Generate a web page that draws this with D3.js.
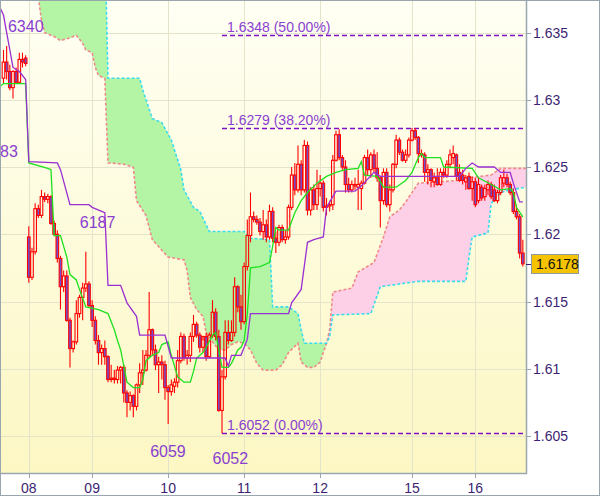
<!DOCTYPE html>
<html><head><meta charset="utf-8">
<script src="https://cdn.jsdelivr.net/npm/d3@7"></script>
<style>
html,body{margin:0;padding:0;background:#fff;}
svg{display:block;font-family:"Liberation Sans",Arial,sans-serif;}
</style></head><body>
<svg id="chart" width="600" height="497"></svg>
<script>
// ---- data ----
const dayLabels = ["08","09","10","11","12","15","16"];
const dayIndex  = [8,28,52,76,100,129,149];
const priceTicks = [1.605,1.61,1.615,1.62,1.625,1.63,1.635];

const open = [1.6316,1.6328,1.6321,1.6309,1.6321,1.6313,1.6330,1.6331,1.6198,1.6168,
1.6187,1.6219,1.6214,1.6228,1.6226,1.6228,1.6208,1.6200,1.6182,1.6161,
1.6169,1.6136,1.6115,1.6120,1.6141,1.6153,1.6160,1.6163,1.6147,1.6136,
1.6121,1.6112,1.6115,1.6109,1.6092,1.6093,1.6092,1.6099,1.6101,1.6082,
1.6075,1.6080,1.6072,1.6088,1.6097,1.6099,1.6110,1.6129,1.6114,1.6103,
1.6105,1.6103,1.6086,1.6083,1.6087,1.6090,1.6106,1.6124,1.6108,1.6110,
1.6124,1.6133,1.6125,1.6116,1.6124,1.6109,1.6125,1.6142,1.6124,1.6069,
1.6094,1.6127,1.6121,1.6127,1.6161,1.6146,1.6135,1.6176,1.6199,1.6213,
1.6211,1.6209,1.6202,1.6207,1.6198,1.6217,1.6197,1.6194,1.6205,1.6196,
1.6198,1.6220,1.6244,1.6233,1.6252,1.6233,1.6266,1.6218,1.6233,1.6222,
1.6234,1.6238,1.6220,1.6221,1.6222,1.6255,1.6274,1.6257,1.6250,1.6237,
1.6233,1.6236,1.6235,1.6234,1.6238,1.6257,1.6248,1.6259,1.6249,1.6242,
1.6225,1.6246,1.6222,1.6233,1.6252,1.6270,1.6261,1.6255,1.6259,1.6270,
1.6277,1.6272,1.6260,1.6259,1.6246,1.6248,1.6239,1.6242,1.6237,1.6246,
1.6244,1.6252,1.6257,1.6259,1.6246,1.6244,1.6239,1.6243,1.6234,1.6239,
1.6225,1.6235,1.6228,1.6233,1.6237,1.6233,1.6225,1.6231,1.6238,1.6242,
1.6237,1.6231,1.6217,1.6213,1.6186];
const high = [1.6337,1.6340,1.6326,1.6322,1.6324,1.6335,1.6335,1.6333,1.6206,1.6190,
1.6223,1.6222,1.6233,1.6231,1.6230,1.6229,1.6210,1.6203,1.6184,1.6173,
1.6173,1.6138,1.6121,1.6151,1.6155,1.6164,1.6187,1.6165,1.6151,1.6139,
1.6125,1.6118,1.6121,1.6110,1.6103,1.6099,1.6102,1.6102,1.6103,1.6084,
1.6083,1.6081,1.6089,1.6104,1.6114,1.6114,1.6157,1.6130,1.6118,1.6109,
1.6110,1.6106,1.6088,1.6092,1.6093,1.6114,1.6127,1.6126,1.6114,1.6127,
1.6140,1.6135,1.6127,1.6121,1.6127,1.6127,1.6151,1.6145,1.6129,1.6099,
1.6136,1.6136,1.6136,1.6168,1.6162,1.6155,1.6179,1.6211,1.6231,1.6217,
1.6214,1.6212,1.6218,1.6211,1.6222,1.6220,1.6202,1.6207,1.6207,1.6203,
1.6222,1.6250,1.6253,1.6266,1.6255,1.6270,1.6269,1.6235,1.6237,1.6248,
1.6244,1.6240,1.6227,1.6225,1.6259,1.6277,1.6278,1.6259,1.6255,1.6242,
1.6240,1.6242,1.6248,1.6240,1.6259,1.6263,1.6261,1.6263,1.6261,1.6243,
1.6249,1.6249,1.6237,1.6253,1.6274,1.6272,1.6263,1.6263,1.6272,1.6279,
1.6279,1.6273,1.6263,1.6261,1.6252,1.6249,1.6246,1.6249,1.6249,1.6249,
1.6255,1.6263,1.6266,1.6260,1.6252,1.6248,1.6244,1.6246,1.6243,1.6242,
1.6242,1.6237,1.6237,1.6240,1.6239,1.6237,1.6233,1.6244,1.6248,1.6245,
1.6239,1.6234,1.6222,1.6215,1.6196];
const low = [1.6312,1.6315,1.6307,1.6301,1.6312,1.6312,1.6324,1.6325,1.6164,1.6166,
1.6185,1.6212,1.6212,1.6224,1.6223,1.6207,1.6199,1.6179,1.6144,1.6157,
1.6135,1.6101,1.6112,1.6118,1.6138,1.6136,1.6157,1.6146,1.6131,1.6118,
1.6103,1.6103,1.6103,1.6090,1.6090,1.6089,1.6089,1.6089,1.6075,1.6064,
1.6069,1.6064,1.6069,1.6082,1.6088,1.6098,1.6108,1.6110,1.6099,1.6082,
1.6092,1.6077,1.6059,1.6080,1.6082,1.6086,1.6104,1.6106,1.6103,1.6105,
1.6120,1.6123,1.6112,1.6112,1.6106,1.6108,1.6123,1.6121,1.6068,1.6052,
1.6092,1.6118,1.6120,1.6124,1.6142,1.6129,1.6133,1.6173,1.6194,1.6209,
1.6207,1.6199,1.6196,1.6194,1.6196,1.6194,1.6186,1.6191,1.6194,1.6193,
1.6196,1.6218,1.6229,1.6231,1.6229,1.6231,1.6214,1.6214,1.6218,1.6218,
1.6228,1.6217,1.6214,1.6217,1.6218,1.6254,1.6255,1.6248,1.6231,1.6231,
1.6231,1.6233,1.6218,1.6218,1.6237,1.6244,1.6242,1.6246,1.6239,1.6205,
1.6222,1.6220,1.6217,1.6231,1.6249,1.6259,1.6254,1.6253,1.6257,1.6269,
1.6270,1.6253,1.6257,1.6239,1.6237,1.6235,1.6235,1.6236,1.6236,1.6242,
1.6242,1.6249,1.6252,1.6240,1.6239,1.6237,1.6233,1.6233,1.6225,1.6220,
1.6223,1.6225,1.6225,1.6229,1.6226,1.6224,1.6223,1.6229,1.6235,1.6235,
1.6229,1.6215,1.6211,1.6182,1.6176];
const close = [1.6328,1.6321,1.6309,1.6321,1.6313,1.6330,1.6328,1.6327,1.6168,1.6187,
1.6219,1.6214,1.6228,1.6226,1.6228,1.6208,1.6200,1.6182,1.6161,1.6169,
1.6136,1.6115,1.6120,1.6141,1.6153,1.6160,1.6163,1.6147,1.6136,1.6121,
1.6112,1.6115,1.6109,1.6092,1.6093,1.6092,1.6099,1.6101,1.6082,1.6075,
1.6080,1.6072,1.6088,1.6097,1.6099,1.6110,1.6129,1.6114,1.6103,1.6105,
1.6103,1.6086,1.6083,1.6088,1.6090,1.6106,1.6124,1.6108,1.6110,1.6124,
1.6133,1.6125,1.6116,1.6124,1.6109,1.6125,1.6142,1.6124,1.6069,1.6094,
1.6127,1.6121,1.6127,1.6161,1.6146,1.6135,1.6176,1.6199,1.6213,1.6211,
1.6209,1.6202,1.6207,1.6198,1.6217,1.6197,1.6194,1.6205,1.6196,1.6198,
1.6220,1.6244,1.6233,1.6252,1.6233,1.6266,1.6218,1.6233,1.6222,1.6234,
1.6238,1.6220,1.6221,1.6222,1.6255,1.6274,1.6257,1.6250,1.6237,1.6233,
1.6237,1.6237,1.6237,1.6238,1.6257,1.6248,1.6259,1.6249,1.6242,1.6225,
1.6246,1.6222,1.6233,1.6252,1.6270,1.6261,1.6255,1.6259,1.6270,1.6277,
1.6272,1.6260,1.6259,1.6246,1.6248,1.6240,1.6242,1.6237,1.6246,1.6244,
1.6252,1.6259,1.6260,1.6243,1.6240,1.6240,1.6242,1.6234,1.6239,1.6222,
1.6237,1.6227,1.6234,1.6237,1.6228,1.6225,1.6231,1.6242,1.6242,1.6237,
1.6231,1.6217,1.6213,1.6186,1.6178];

const tenkanIdx = [-1,0,7,8,14,15,16,18,20,21,23,24,26,30,33,35,36,37,39,41,43,44,45,47,49,50,52,53,55,57,59,60,61,63,64,66,67,68,69,71,72,73,74,75,76,77,78,81,84,85,86,87,90,92,94,96,99,102,105,108,112,113,114,118,120,124,127,129,131,132,133,138,139,148,150,154,157,160,161,162,164];
const tenkanVal = [1.6310,1.6312,1.6312,1.6253,1.6249,1.6248,1.6199,1.6199,1.6183,1.6170,1.6166,1.6159,1.6146,1.6144,1.6141,1.6129,1.6121,1.6114,1.6090,1.6086,1.6086,1.6092,1.6106,1.6110,1.6112,1.6118,1.6120,1.6110,1.6094,1.6090,1.6090,1.6098,1.6108,1.6112,1.6116,1.6125,1.6127,1.6114,1.6101,1.6101,1.6104,1.6109,1.6114,1.6116,1.6121,1.6141,1.6175,1.6176,1.6179,1.6191,1.6205,1.6203,1.6203,1.6216,1.6225,1.6231,1.6238,1.6243,1.6246,1.6248,1.6249,1.6254,1.6244,1.6243,1.6235,1.6235,1.6240,1.6246,1.6257,1.6260,1.6257,1.6257,1.6250,1.6249,1.6242,1.6237,1.6233,1.6234,1.6231,1.6220,1.6213];

const kijunIdx = [-1,0,3,5,7,8,17,18,21,27,28,31,32,33,37,39,42,43,51,53,70,71,72,75,77,78,90,91,94,96,98,101,102,105,111,113,117,119,144,146,148,150,155,157,160,161,163,164];
const kijunVal = [1.6368,1.6363,1.6324,1.6321,1.6315,1.6254,1.6253,1.6248,1.6222,1.6222,1.6220,1.6217,1.6216,1.6162,1.6162,1.6149,1.6139,1.6125,1.6125,1.6108,1.6108,1.6102,1.6110,1.6110,1.6122,1.6141,1.6141,1.6149,1.6159,1.6194,1.6196,1.6198,1.6220,1.6232,1.6232,1.6236,1.6246,1.6243,1.6243,1.6249,1.6253,1.6250,1.6250,1.6246,1.6246,1.6238,1.6224,1.6224];

const spanAIdx = [11,12,13,16,18,21,23,25,26,28,29,30,32,33,34,38,41,42,45,47,52,57,58,59,61,63,64,66,68,70,72,74,76,78,80,82,86,88,90,93,94,96,98,100,101,102,103,104,110,112,117,120,122,125,127,131,144,147,154,157,165];
const spanAVal = [1.6376,1.6359,1.6350,1.6347,1.6344,1.6346,1.6348,1.6342,1.6337,1.6335,1.6324,1.6318,1.6316,1.6253,1.6253,1.6252,1.6250,1.6225,1.6214,1.6196,1.6183,1.6181,1.6173,1.6153,1.6144,1.6139,1.6127,1.6120,1.6114,1.6114,1.6118,1.6120,1.6119,1.6114,1.6104,1.6099,1.6099,1.6103,1.6112,1.6119,1.6105,1.6101,1.6101,1.6105,1.6112,1.6119,1.6129,1.6157,1.6160,1.6172,1.6179,1.6198,1.6213,1.6218,1.6224,1.6238,1.6240,1.6242,1.6244,1.6249,1.6249];

const spanBIdx = [11,32,33,43,44,47,50,53,56,57,60,62,65,76,78,84,85,90,93,94,95,102,103,104,116,119,131,146,147,148,153,154,157,160,165];
const spanBVal = [1.6420,1.6420,1.6316,1.6316,1.6307,1.6286,1.6283,1.6270,1.6248,1.6233,1.6220,1.6217,1.6202,1.6202,1.6197,1.6196,1.6146,1.6146,1.6141,1.6129,1.6119,1.6119,1.6124,1.6140,1.6141,1.6161,1.6165,1.6165,1.6183,1.6198,1.6201,1.6223,1.6231,1.6233,1.6235];

const fibLevels = [1.6348,1.6279,1.6052];
const fibPct = ["50.00%","38.20%","0.00%"];
const fibStartIdx = 69;

const swingText = ["6340","6187","6059","6052","83"];
const swingIdx  = [1,26,52,69,-1.1];
const swingVal  = [1.6340,1.6187,1.6059,1.6052,1.6283];

const lastPrice = 1.6178;

// ---- drawing ----
const W=600,H=497,plotR=526,plotB=473;
const svg=d3.select("#chart");
const defs=svg.append("defs");
const grad=defs.append("linearGradient").attr("id","bg").attr("x1",0).attr("y1",0).attr("x2",0).attr("y2",1);
grad.append("stop").attr("offset","0%").attr("stop-color","#fffff4");
grad.append("stop").attr("offset","100%").attr("stop-color","#fcf7c3");
defs.append("clipPath").attr("id","clip").append("rect").attr("x",0).attr("y",0).attr("width",plotR).attr("height",plotB);

svg.append("rect").attr("width",W).attr("height",H).attr("fill","#fff");
svg.append("rect").attr("x",0).attr("y",0).attr("width",plotR).attr("height",plotB).attr("fill","url(#bg)");

const x=d3.scaleLinear().domain([-1.1,165]).range([0,plotR]);
const y=d3.scaleLinear().domain([1.605,1.635]).range([436,32.5]);

const g=svg.append("g").attr("clip-path","url(#clip)");
const gridC="#e4e4ca";
g.selectAll(".gx").data(dayIndex).join("line")
  .attr("x1",d=>Math.round(x(d))+0.5).attr("x2",d=>Math.round(x(d))+0.5)
  .attr("y1",0).attr("y2",plotB).attr("stroke",gridC);
g.selectAll(".gy").data(priceTicks).join("line")
  .attr("y1",d=>Math.round(y(d))+0.5).attr("y2",d=>Math.round(y(d))+0.5)
  .attr("x1",0).attr("x2",plotR).attr("stroke",gridC);

// cloud
const A=spanAIdx.map((d,k)=>[d,spanAVal[k]]);
const B=spanBIdx.map((d,k)=>[d,spanBVal[k]]);
const line=d3.line().x(p=>x(p[0])).y(p=>y(p[1]));
function poly(lo,hi){
  const a=A.filter(p=>p[0]>=lo&&p[0]<=hi);
  const b=B.filter(p=>p[0]>=lo&&p[0]<=hi).reverse();
  return line(a.concat(b))+"Z";
}
g.append("path").attr("d",poly(11,102)).attr("fill","#b3f5a5");
g.append("path").attr("d",poly(102,165)).attr("fill","#fdd0e7");
g.append("path").attr("d",line(A)).attr("fill","none").attr("stroke","#f08a8a").attr("stroke-width",1.6).attr("stroke-dasharray","3,2");
g.append("path").attr("d",line(B)).attr("fill","none").attr("stroke","#3cdcef").attr("stroke-width",1.6).attr("stroke-dasharray","3,2");

// fib lines
g.selectAll(".fib").data(fibLevels).join("line")
  .attr("x1",x(fibStartIdx)).attr("x2",plotR)
  .attr("y1",d=>Math.round(y(d))+0.5).attr("y2",d=>Math.round(y(d))+0.5)
  .attr("stroke","#8010c4").attr("stroke-width",1.3).attr("stroke-dasharray","5,3");
g.selectAll(".fibt").data(fibLevels).join("text")
  .attr("x",x(fibStartIdx)+5).attr("y",d=>y(d)-3)
  .attr("font-size",14).attr("fill","#8a3fd0")
  .text((d,k)=>d.toFixed(4)+" ("+fibPct[k]+")");

// candles
const bars=d3.range(open.length);
const red="#ff0000";
g.selectAll(".wu").data(bars).join("line")
  .attr("x1",i=>x(i)).attr("x2",i=>x(i))
  .attr("y1",i=>y(high[i])).attr("y2",i=>y(Math.max(open[i],close[i])))
  .attr("stroke",red).attr("stroke-width",1.1);
g.selectAll(".wl").data(bars).join("line")
  .attr("x1",i=>x(i)).attr("x2",i=>x(i))
  .attr("y1",i=>y(Math.min(open[i],close[i]))).attr("y2",i=>y(low[i]))
  .attr("stroke",red).attr("stroke-width",1.1);
g.selectAll(".body").data(bars).join("rect")
  .attr("x",i=>x(i)-1.3).attr("width",2.6)
  .attr("y",i=>y(Math.max(open[i],close[i])))
  .attr("height",i=>Math.max(1,Math.abs(y(open[i])-y(close[i]))))
  .attr("fill",i=>close[i]<open[i]?"#6f4fcf":"none")
  .attr("stroke",red).attr("stroke-width",1.1);

// tenkan / kijun
g.append("path").attr("d",line(tenkanIdx.map((d,k)=>[d,tenkanVal[k]])))
  .attr("fill","none").attr("stroke","#1ee01e").attr("stroke-width",1.3);
g.append("path").attr("d",line(kijunIdx.map((d,k)=>[d,kijunVal[k]])))
  .attr("fill","none").attr("stroke","#9a2fd2").attr("stroke-width",1.3);

// swing labels
const swingDx=[1.3,-6,-18,-9.5,0], swingDy=[-14,-23.5,33,31,34.5];
g.selectAll(".sw").data(swingText).join("text")
  .attr("x",(d,k)=>x(swingIdx[k])+swingDx[k]).attr("y",(d,k)=>y(swingVal[k])+swingDy[k])
  .attr("font-size",16).attr("fill","#8a3fd0").text(d=>d);

// axes
const axC="#9aa6ae", txtC="#3d1f73";
svg.append("line").attr("x1",plotR+0.5).attr("x2",plotR+0.5).attr("y1",0).attr("y2",plotB+1).attr("stroke",axC).attr("stroke-width",1.5);
svg.append("line").attr("x1",0).attr("x2",plotR+1).attr("y1",plotB+0.5).attr("y2",plotB+0.5).attr("stroke",axC).attr("stroke-width",1.5);
svg.selectAll(".yt").data(priceTicks).join("line")
  .attr("x1",plotR).attr("x2",plotR+5).attr("y1",d=>Math.round(y(d))+0.5).attr("y2",d=>Math.round(y(d))+0.5).attr("stroke",axC);
svg.selectAll(".yl").data(priceTicks).join("text")
  .attr("x",plotR+7).attr("y",d=>y(d)+5).attr("font-size",14).attr("fill",txtC)
  .text(d=>d3.format("")(+d.toFixed(3)));
svg.selectAll(".xt").data(dayIndex).join("line")
  .attr("x1",d=>Math.round(x(d))+0.5).attr("x2",d=>Math.round(x(d))+0.5).attr("y1",plotB).attr("y2",plotB+5).attr("stroke",axC);
svg.selectAll(".xl").data(dayLabels).join("text")
  .attr("x",(d,k)=>x(dayIndex[k])).attr("y",493).attr("text-anchor","middle")
  .attr("font-size",14).attr("fill",txtC).text(d=>d);

// current price
const py=y(lastPrice);
svg.append("line").attr("x1",plotR).attr("x2",plotR+5).attr("y1",Math.round(py)+0.5).attr("y2",Math.round(py)+0.5).attr("stroke",txtC);
svg.append("rect").attr("x",531.5).attr("y",Math.round(py)-9.5).attr("width",47).attr("height",19)
  .attr("fill","#f5c300").attr("stroke","#8e9aa3");
svg.append("text").attr("x",536).attr("y",py+5).attr("font-size",14).attr("fill","#111").text(lastPrice.toFixed(4));

// frame
svg.append("rect").attr("x",0.5).attr("y",0.5).attr("width",599).attr("height",495).attr("fill","none").attr("stroke",axC);
</script>
</body></html>
